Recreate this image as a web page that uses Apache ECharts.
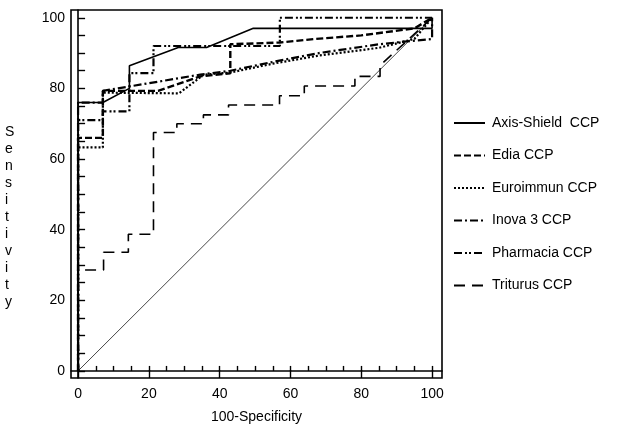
<!DOCTYPE html>
<html>
<head>
<meta charset="utf-8">
<script src="https://cdn.jsdelivr.net/npm/echarts@6/dist/echarts.min.js"></script>
<style>html,body{margin:0;padding:0;background:#fff}#c{width:627px;height:432px}</style>
</head>
<body>
<div id="c"></div>
<script>
// ---- data (x = 100-Specificity, y = Sensitivity) ----
const seriesNames = ['Axis-Shield  CCP', 'Edia CCP', 'Euroimmun CCP', 'Inova 3 CCP', 'Pharmacia CCP', 'Triturus CCP'];
const axisShield = [[0,0],[0,76],[7,76],[14.5,80],[14.5,86.4],[28.3,91.6],[36.3,91.6],[49.5,97],[100,97],[100,100]];
const edia = [[0,0],[0,66],[7,66],[7,79.3],[22.6,79.3],[34.5,83.4],[43,84.3],[43,92.5],[57,93],[67,94],[80,95],[95,97],[100,100]];
const euroimmun = [[0,0],[0,63.3],[7,63.3],[7,78.8],[28.5,78.6],[35.5,83.9],[43,84.5],[55,87],[68,89.3],[85,91.5],[95,94],[100,100]];
const inova = [[0,0],[0,76],[7,76],[7,79.3],[34.5,83.9],[43,85],[55,87.5],[68,90],[85,92.5],[100,94],[100,100]];
const pharmacia = [[0,0],[0,71],[7,71],[7,73.5],[14.5,73.5],[14.5,84.3],[21.3,84.3],[21.3,92],[57,92],[57,100],[100,100]];
const triturus = [[0,0],[0,28.6],[7.2,28.6],[7.2,33.6],[14.2,33.6],[14.2,38.7],[21.3,38.7],[21.3,67.5],[27.9,67.5],[27.9,70],[35.4,70],[35.4,72.5],[42.5,72.5],[42.5,75.3],[56.9,75.3],[56.9,77.9],[63.9,77.9],[63.9,80.7],[78.2,80.7],[78.2,83.4],[85.3,83.4],[85.3,86.5],[100,100]];
const chance = [[0,0],[100,100]];
const xLabels = [0,20,40,60,80,100];
const yLabels = [0,20,40,60,80,100];
const minorTicks = [0,5,10,15,20,25,30,35,40,45,50,55,60,65,70,75,80,85,90,95,100];

const dataSets = [axisShield, edia, euroimmun, inova, pharmacia, triturus];
const styles = [
  {type:'solid', width:1.6},
  {type:[7,3], width:2.4},
  {type:[2,2], width:2.2},
  {type:[8,3,2,3], width:2.2},
  {type:[8,3,2,2,2,3], width:2.2},
  {type:[11,7], width:1.6}
];

const chart = echarts.init(document.getElementById('c'), null, {renderer:'canvas'});
const font = 'Liberation Sans, Arial, Helvetica, sans-serif';

const series = dataSets.map((d,i)=>({
  name: seriesNames[i], type:'line', data:d, symbol:'none', showSymbol:false, animation:false,
  itemStyle:{color:'#000', opacity:0},
  lineStyle:{color:'#000', type:styles[i].type, width:styles[i].width}, z:3
}));
series.push({name:'chance', type:'line', data:chance, symbol:'none', animation:false,
  itemStyle:{color:'#333'},
  lineStyle:{color:'#333', width:0.9, type:'solid'}, z:2});

chart.setOption({
  backgroundColor:'#fff',
  animation:false,
  grid:{left:71, top:10, width:371, height:368, show:true, borderColor:'#000', borderWidth:1.6, backgroundColor:'transparent'},
  xAxis:[{
    type:'value', min:-2, max:102.8, gridIndex:0, position:'bottom',
    axisLine:{show:true, lineStyle:{color:'#000', width:1.6}},
    splitLine:{show:false},
    axisTick:{show:true, inside:true, length:5, customValues:minorTicks, lineStyle:{color:'#000', width:1.4}},
    axisLabel:{show:true, customValues:xLabels, color:'#000', fontSize:14, fontFamily:font, margin:9},
    name:'100-Specificity', nameLocation:'middle', nameGap:32,
    nameTextStyle:{color:'#000', fontSize:14, fontFamily:font}
  },{
    type:'value', min:-2, max:102.8, gridIndex:0, position:'bottom',
    axisLine:{show:false}, splitLine:{show:false},
    axisTick:{show:true, inside:true, length:8, customValues:xLabels, lineStyle:{color:'#000', width:1.4}},
    axisLabel:{show:false}
  }],
  yAxis:[{
    type:'value', min:-2, max:102.2,
    axisLine:{show:true, lineStyle:{color:'#000', width:1.6}},
    splitLine:{show:false},
    axisTick:{show:true, inside:true, length:7, customValues:minorTicks, lineStyle:{color:'#000', width:1.4}},
    axisLabel:{show:true, customValues:yLabels, color:'#000', fontSize:14, fontFamily:font, margin:6}
  }],
  legend:{
    orient:'vertical', left:453, top:116, itemWidth:31, itemHeight:14, itemGap:18.5,
    padding:0, data:seriesNames,
    itemStyle:{opacity:0},
    lineStyle:{color:'#000'},
    textStyle:{color:'#000', fontSize:14, fontFamily:font, padding:[0,0,0,2]}
  },
  graphic:[{
    type:'text', left:5, top:124,
    style:{text:'S\ne\nn\ns\ni\nt\ni\nv\ni\nt\ny', fill:'#000', font:'14px ' + font, lineHeight:17, align:'center'}
  }],
  series: series
});
</script>
</body>
</html>
